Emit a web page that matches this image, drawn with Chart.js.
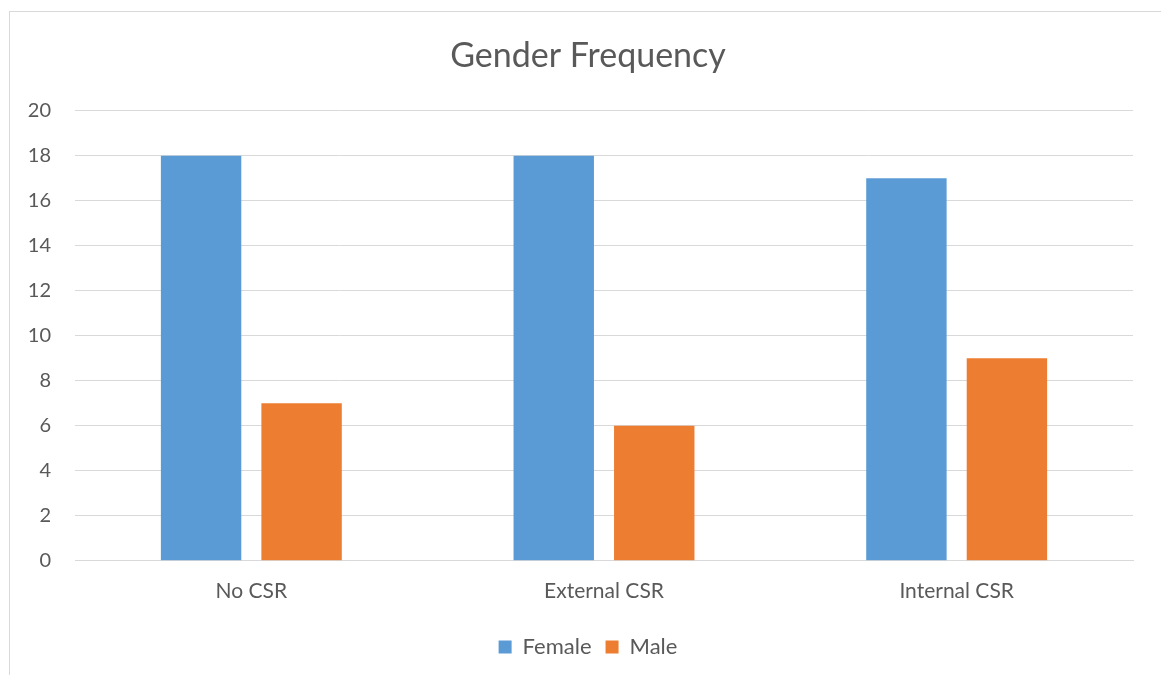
<!DOCTYPE html>
<html>
<head>
<meta charset="utf-8">
<script src="https://cdn.jsdelivr.net/npm/chart.js@4.4.0/dist/chart.umd.min.js"></script>
<style>
  body { margin: 0; background: #fff; }
  #frame { position: absolute; left: 9px; top: 11px; width: 1160px; height: 680px; border: 1px solid #d9d9d9; }
  #chart { position: absolute; left: 0; top: 0; }
</style>
</head>
<body>
<div id="frame"><canvas id="chart" width="1150" height="664"></canvas></div>
<script>
// veriler
const categories = ['No CSR', 'External CSR', 'Internal CSR'];
const femaleValues = [18, 18, 17];
const maleValues = [7, 6, 9];
const yTicks = [0, 2, 4, 6, 8, 10, 12, 14, 16, 18, 20];

const textColor = '#595959';
const gridColor = '#d9d9d9';

const ctx = document.getElementById('chart').getContext('2d');
const genderChart = new Chart(ctx, {
    type: 'bar',
    data: {
        labels: categories,
        datasets: [{
            label: 'Female',
            data: femaleValues,
            backgroundColor: '#5b9bd5',
            categoryPercentage: 0.57,
            barPercentage: 0.8
        }, {
            label: 'Male',
            data: maleValues,
            backgroundColor: '#ed7d31',
            categoryPercentage: 0.57,
            barPercentage: 0.8
        }]
    },
    options: {
        responsive: false,
        animation: false,
        layout: { padding: { left: 17, right: 11, top: 24, bottom: 8 } },
        plugins: {
            title: {
                display: true,
                text: 'Gender Frequency',
                color: textColor,
                font: { family: 'Lato', size: 34, weight: 'normal' },
                padding: { top: 0, bottom: 34 }
            },
            legend: {
                display: true,
                position: 'bottom',
                labels: {
                    color: textColor,
                    font: { family: 'Lato', size: 22 },
                    boxWidth: 13,
                    boxHeight: 13,
                    padding: 14
                }
            },
            tooltip: { enabled: false }
        },
        scales: {
            x: {
                grid: { display: false, drawTicks: false },
                border: { color: gridColor },
                ticks: { color: textColor, font: { family: 'Lato', size: 21 }, padding: 18 }
            },
            y: {
                min: 0,
                max: 20,
                afterBuildTicks: axis => { axis.ticks = yTicks.map(v => ({ value: v })); },
                afterFit: axis => { axis.width = 48; },
                grid: { color: gridColor, drawTicks: false },
                border: { display: false },
                ticks: { color: textColor, font: { family: 'Lato', size: 20 }, padding: 24 }
            },
            // sağ tarafta boş alan bırakmak için görünmez eksen
            yRight: {
                type: 'linear',
                position: 'right',
                min: 0,
                max: 20,
                afterFit: axis => { axis.width = 16; },
                grid: { display: false, drawTicks: false },
                border: { display: false },
                ticks: { display: false }
            }
        }
    }
});
</script>
</body>
</html>
